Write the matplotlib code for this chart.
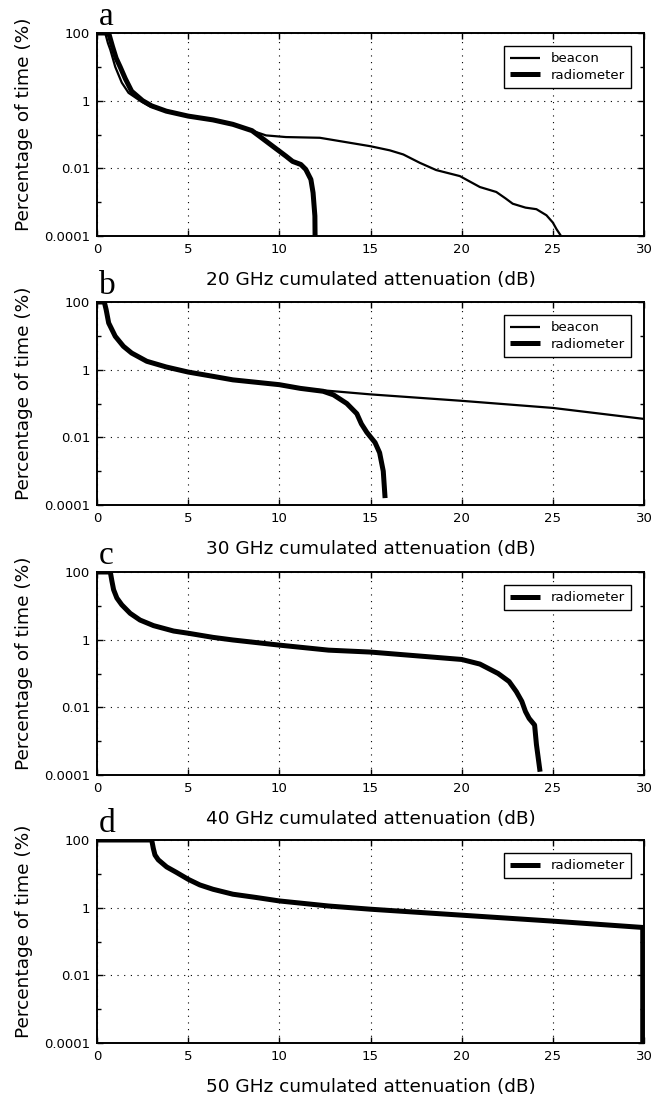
import numpy as np
import matplotlib
matplotlib.use("Agg")
import matplotlib.pyplot as plt
from matplotlib.ticker import FixedLocator, FixedFormatter, NullFormatter

# ---- data (attenuation dB, percentage of time %) ----
# panel a : 20 GHz
a_beacon_x = [0, 0.45, 0.6, 0.73, 1.0, 1.36, 1.73, 2.36, 2.9, 3.8, 5.0, 6.36, 7.45, 8.5, 9.27,
              10.36, 12.22, 15.0, 16.06, 16.8, 17.7, 18.6, 19.9, 20.4, 21.0, 21.9, 22.4, 22.8,
              23.5, 24.1, 24.65, 25.0, 25.2, 25.45]
a_beacon_y = [100, 100, 50, 32, 10, 3.4, 1.7, 1.0, 0.68, 0.49, 0.35, 0.27, 0.2, 0.13, 0.094,
              0.084, 0.08, 0.045, 0.034, 0.0257, 0.0146, 0.0089, 0.0059, 0.0042, 0.0028, 0.002,
              0.0013, 0.0009, 0.00069, 0.00062, 0.00041, 0.00025, 0.00016, 0.0001]
a_radio_x = [0, 0.64, 0.85, 1.05, 1.27, 1.55, 1.9, 2.5, 3.0, 3.8, 5.0, 6.36, 7.45, 8.5, 8.91,
             9.64, 10.36, 10.73, 11.18, 11.45, 11.73, 11.85, 11.95, 11.96]
a_radio_y = [100, 100, 40, 18, 10, 4.5, 1.9, 1.0, 0.7, 0.49, 0.35, 0.27, 0.2, 0.13, 0.089,
             0.045, 0.023, 0.016, 0.013, 0.0093, 0.0047, 0.0019, 0.00039, 0.0001]

# panel b : 30 GHz
b_beacon_x = [0, 0.4, 0.5, 0.64, 1.0, 1.45, 1.9, 2.73, 3.8, 5.0, 6.4, 7.45, 10.0, 11.15, 12.22,
              15.0, 20.0, 25.0, 30.0]
b_beacon_y = [100, 100, 60, 24, 9.7, 4.9, 3.1, 1.77, 1.2, 0.85, 0.63, 0.5, 0.36, 0.28, 0.25,
              0.186, 0.12, 0.074, 0.035]
b_radio_x = [0, 0.4, 0.5, 0.64, 1.0, 1.45, 1.9, 2.73, 3.8, 5.0, 6.4, 7.45, 10.0, 11.15, 12.4,
             12.97, 13.7, 14.25, 14.5, 14.8, 15.25, 15.5, 15.7, 15.8]
b_radio_y = [100, 100, 60, 24, 9.7, 4.9, 3.1, 1.77, 1.2, 0.85, 0.63, 0.5, 0.36, 0.28, 0.23,
             0.18, 0.1, 0.05, 0.025, 0.014, 0.007, 0.0035, 0.001, 0.00016]

# panel c : 40 GHz
c_radio_x = [0, 0.73, 0.82, 0.91, 1.09, 1.36, 1.82, 2.36, 3.1, 4.2, 5.0, 6.36, 7.45, 10.0,
             12.7, 15.0, 20.0, 21.0, 22.0, 22.6, 23.0, 23.3, 23.5, 23.7, 24.0, 24.1, 24.3]
c_radio_y = [100, 100, 53, 30, 17, 10.7, 6.0, 3.8, 2.6, 1.8, 1.55, 1.17, 0.98, 0.69,
             0.49, 0.43, 0.26, 0.19, 0.10, 0.058, 0.029, 0.015, 0.0075, 0.0047, 0.003,
             0.0008, 0.000125]

# panel d : 50 GHz
d_radio_x = [0, 3.0, 3.09, 3.18, 3.36, 3.82, 4.36, 5.0, 5.64, 6.36, 7.45, 8.73, 10.0, 12.7,
             15.0, 20.0, 25.0, 29.93, 29.93]
d_radio_y = [100, 100, 56, 36, 26, 16, 11, 6.9, 4.7, 3.5, 2.5, 2.0, 1.58, 1.12,
             0.9, 0.6, 0.4, 0.26, 1e-6]

letters = ["a", "b", "c", "d"]
freqs = ["20", "30", "40", "50"]
ytick_vals = [1e-4, 1e-2, 1, 100]
ytick_text = ["0.0001", "0.01", "1", "100"]
ytick_minor = [1e-3, 1e-1, 10]
xtick_vals = [0, 5, 10, 15, 20, 25, 30]

panels = [
    [("beacon", a_beacon_x, a_beacon_y, 1.6), ("radiometer", a_radio_x, a_radio_y, 3.6)],
    [("beacon", b_beacon_x, b_beacon_y, 1.6), ("radiometer", b_radio_x, b_radio_y, 3.6)],
    [("radiometer", c_radio_x, c_radio_y, 3.6)],
    [("radiometer", d_radio_x, d_radio_y, 3.6)],
]

W, H = 652, 1097
fig = plt.figure(figsize=(W / 100, H / 100), dpi=100)

left, right = 97, 644
tops = [33, 302, 572, 840]
ax_h = 203

for i in range(4):
    top = tops[i]
    ax = fig.add_axes([left / W, 1 - (top + ax_h) / H, (right - left) / W, ax_h / H])
    for name, xs, ys, lw in panels[i]:
        ax.plot(xs, ys, color="black", lw=lw, label=name, solid_joinstyle="round",
                solid_capstyle="butt")
    ax.set_yscale("log")
    ax.set_xlim(0, 30)
    ax.set_ylim(1e-4, 100)
    ax.yaxis.set_major_locator(FixedLocator(ytick_vals))
    ax.yaxis.set_major_formatter(FixedFormatter(ytick_text))
    ax.yaxis.set_minor_locator(FixedLocator(ytick_minor))
    ax.yaxis.set_minor_formatter(NullFormatter())
    ax.set_xticks(xtick_vals)
    ax.tick_params(which="both", direction="in", top=True, right=True, labelsize=9.5,
                   width=1.0, colors="black")
    ax.tick_params(which="major", length=4, pad=5)
    ax.tick_params(which="minor", length=3)
    ax.grid(True, which="major", color="black", linestyle=(0, (1, 5)), linewidth=0.8)
    for sp in ax.spines.values():
        sp.set_linewidth(1.4)
    ax.set_xlabel(freqs[i] + " GHz cumulated attenuation (dB)", fontsize=13.3, labelpad=11)
    ax.set_ylabel("Percentage of time (%)", fontsize=13.3)
    ax.yaxis.set_label_coords(-0.117, 0.55)
    leg = ax.legend(loc="upper right", fontsize=9.5, fancybox=False, framealpha=1,
                    edgecolor="black", handlelength=2.3, handletextpad=0.8,
                    labelspacing=0.3, borderpad=0.45, borderaxespad=1.0)
    leg.get_frame().set_linewidth(1.0)
    fig.text(99 / W, 1 - (top - 8) / H, letters[i], fontsize=24,
             family="Liberation Serif", va="baseline", ha="left")

fig.savefig("out.png", dpi=100)
